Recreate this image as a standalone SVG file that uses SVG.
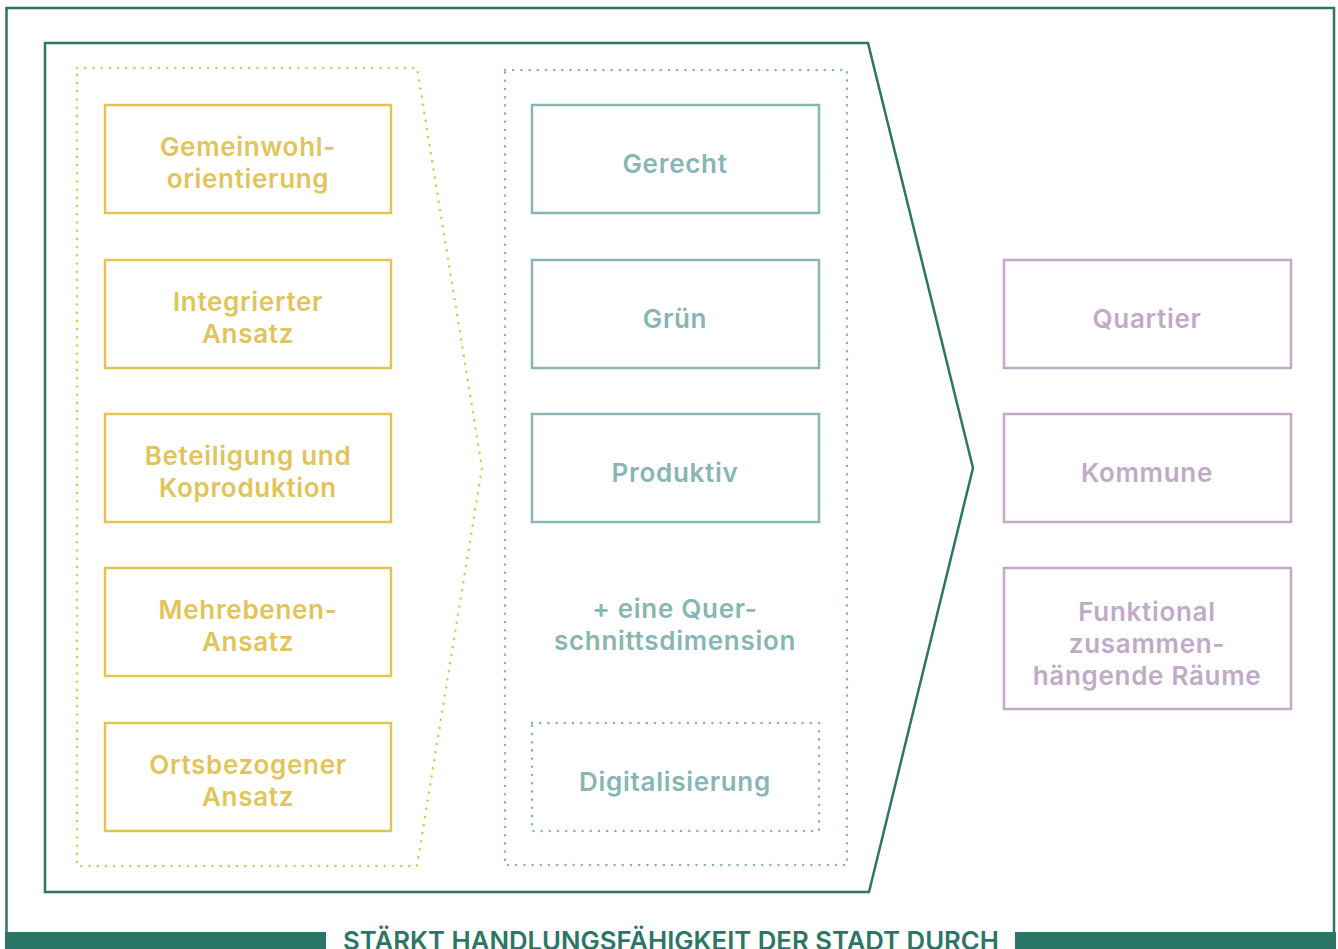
<svg xmlns="http://www.w3.org/2000/svg" width="1338" height="949" viewBox="0 0 1338 949">
<style>
text{font-family:Inter,"Noto Sans","Liberation Sans",sans-serif;font-weight:600;font-size:26px;letter-spacing:0.7px;text-anchor:middle}
.y rect{fill:none;stroke:#e1c453;stroke-width:2.5}
.y text{fill:#e1c45a}
.t rect{fill:none;stroke:#87b6b4;stroke-width:2.5}
.t text{fill:#87b6b4}
.p rect{fill:none;stroke:#c2a9c7;stroke-width:2.5}
.p text{fill:#c2a9c7}
.dot{fill:none;stroke-width:2.6;stroke-linecap:round;stroke-dasharray:0 8.2}
.g{fill:none;stroke:#2c7667;stroke-width:2.5}
</style>
<rect width="1338" height="949" fill="#fff"/>
<g id="frame">
<path class="g" d="M6.5 932 V8 H1334 V932"/>
<rect x="5" y="932" width="321" height="17" fill="#2c7667"/>
<rect x="1015" y="932" width="321" height="17" fill="#2c7667"/>
<text x="671" y="950" font-size="24" style="letter-spacing:0" fill="#2c7667" textLength="656" lengthAdjust="spacingAndGlyphs">STÄRKT HANDLUNGSFÄHIGKEIT DER STADT DURCH</text>
</g>
<g id="arrow">
<path class="g" d="M45 43 H868 L973 468 L869 892 H45 Z"/>
</g>
<g id="groups">
<path class="dot" stroke="#e1c453" d="M77 68 H417 L482 468 L417 866 H77 Z"/>
<rect class="dot" stroke="#87b6b4" x="505" y="70" width="342" height="795"/>
</g>
<g id="principles" class="y">
<g id="n-gemeinwohl"><rect x="105" y="105" width="286" height="108"/><text x="248" y="156">Gemeinwohl-</text><text x="248" y="188">orientierung</text></g>
<g id="n-integriert"><rect x="105" y="260" width="286" height="108"/><text x="248" y="311">Integrierter</text><text x="248" y="343">Ansatz</text></g>
<g id="n-beteiligung"><rect x="105" y="414" width="286" height="108"/><text x="248" y="465">Beteiligung und</text><text x="248" y="497">Koproduktion</text></g>
<g id="n-mehrebenen"><rect x="105" y="568" width="286" height="108"/><text x="248" y="619">Mehrebenen-</text><text x="248" y="651">Ansatz</text></g>
<g id="n-ortsbezogen"><rect x="105" y="723" width="286" height="108"/><text x="248" y="774">Ortsbezogener</text><text x="248" y="806">Ansatz</text></g>
</g>
<g id="dimensions" class="t">
<g id="n-gerecht"><rect x="532" y="105" width="287" height="108"/><text x="675" y="173">Gerecht</text></g>
<g id="n-gruen"><rect x="532" y="260" width="287" height="108"/><text x="675" y="328">Grün</text></g>
<g id="n-produktiv"><rect x="532" y="414" width="287" height="108"/><text x="675" y="482">Produktiv</text></g>
<g id="n-quer"><text x="675" y="618">+ eine Quer-</text><text x="675" y="650">schnittsdimension</text></g>
<g id="n-digital"><rect class="dot" stroke="#87b6b4" x="532" y="723" width="287" height="108" style="stroke-width:2.6"/><text x="675" y="791">Digitalisierung</text></g>
</g>
<g id="levels" class="p">
<g id="n-quartier"><rect x="1004" y="260" width="287" height="108"/><text x="1147" y="328">Quartier</text></g>
<g id="n-kommune"><rect x="1004" y="414" width="287" height="108"/><text x="1147" y="482">Kommune</text></g>
<g id="n-funktional"><rect x="1004" y="568" width="287" height="141"/><text x="1147" y="621">Funktional</text><text x="1147" y="653">zusammen-</text><text x="1147" y="685">hängende Räume</text></g>
</g>
<g id="connectors"></g>
</svg>
